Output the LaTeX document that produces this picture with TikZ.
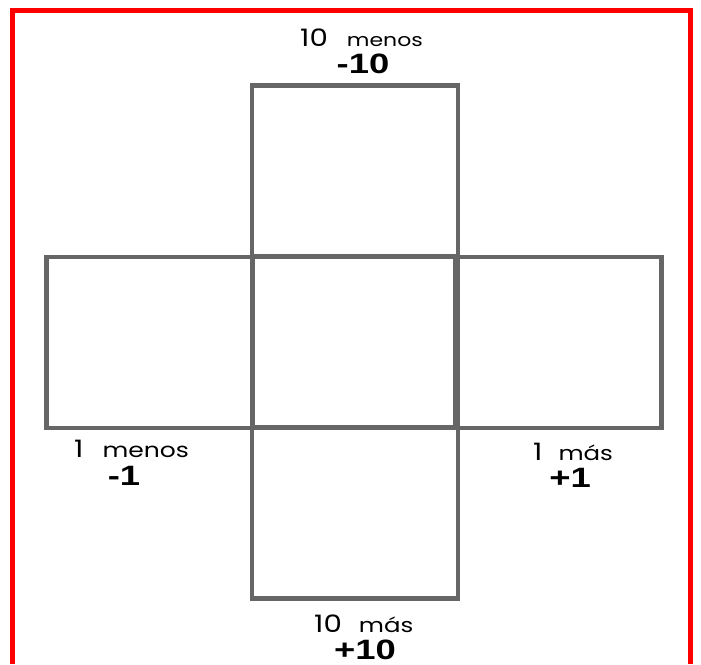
\documentclass[tikz,border=0pt]{standalone}
\usepackage{fontspec}
\setmainfont[FakeStretch=1.22]{Poppins}
\newfontfamily\boldnum[FakeStretch=1.3]{Liberation Sans}
\definecolor{boxgray}{HTML}{666666}
\definecolor{frame}{HTML}{FF0000}
\begin{document}
\begin{tikzpicture}[x=1pt,y=-1pt,
  sq/.style={draw=boxgray,line width=4.5pt,inner sep=0pt,outer sep=0pt,minimum width=206pt,minimum height=171pt},
  word/.style={anchor=base west,inner sep=0pt,font=\fontsize{24}{24}\selectfont},
  num/.style={anchor=base,inner sep=0pt,font=\boldnum\bfseries\fontsize{28}{28}\selectfont}]
\newcommand\smallword[2]{{\fontsize{#1}{#1}\selectfont #2}}
\useasboundingbox (0,0) rectangle (701,664);
\fill[white] (0,0) rectangle (701,664);
\draw[frame,line width=5pt] (12,664) -- (12,10) -- (690,10) -- (690,664);
\node[sq] (c) at (355,342.5) {};
\node[sq] (t) at (355,171) {};
\node[sq] (b) at (355,513) {};
\node[sq] (l) at (149.5,342.5) {};
\node[sq] (r) at (558.5,342.5) {};
\node[word] (tw) at (300,46) {10\hspace{19pt}\smallword{18}{menos}};
\node[num] (tn) at (363,73) {-10};
\node[word] (lw) at (74,457) {1\hspace{19pt}\smallword{20.5}{menos}};
\node[num] (ln) at (124,485) {-1};
\node[word] (rw) at (533,460) {1\hspace{16pt}\smallword{20}{más}};
\node[num] (rn) at (570,487) {+1};
\node[word] (bw) at (314,632) {10\hspace{17pt}\smallword{20}{más}};
\node[num] (bn) at (365,659) {+10};
\end{tikzpicture}
\end{document}
